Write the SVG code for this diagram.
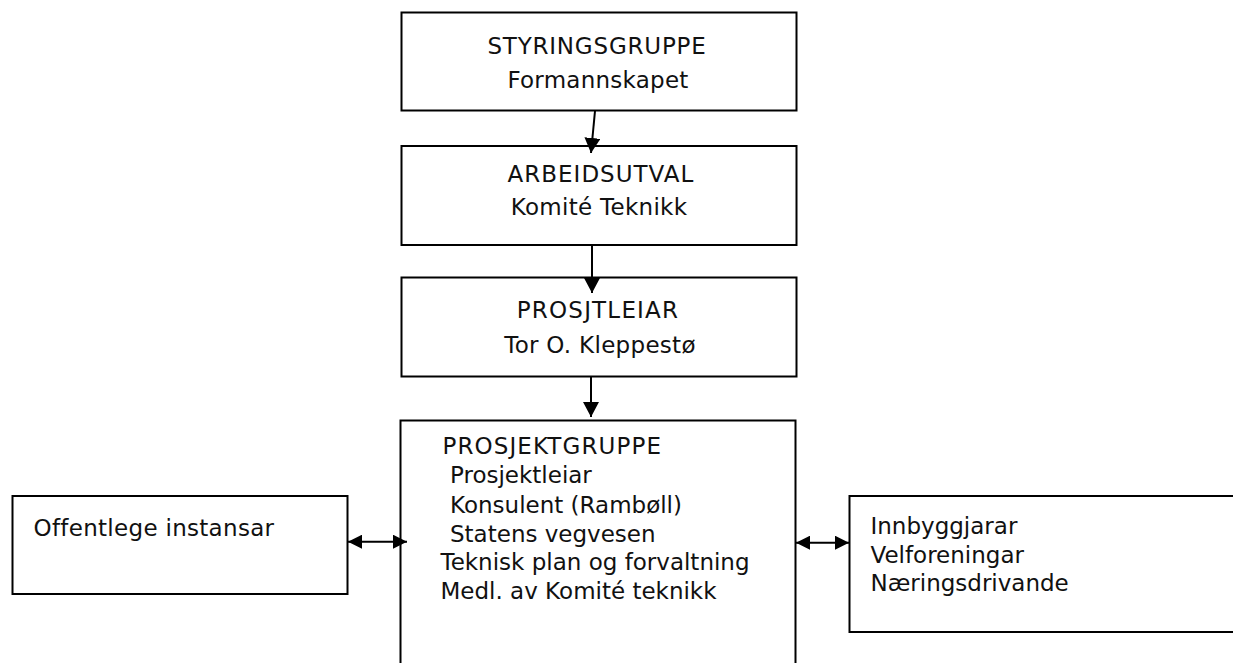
<svg xmlns="http://www.w3.org/2000/svg" width="1233" height="663" viewBox="0 0 1233 663">
<style>
.box{fill:#fff;stroke:#000;stroke-width:2}
.t{font-family:"DejaVu Sans",Verdana,sans-serif;font-size:23px;fill:#111}
.c{text-anchor:middle}
.con{stroke:#000;stroke-width:2;fill:none}
</style>
<defs>
<marker id="ah" viewBox="0 0 15 16" refX="15" refY="8" markerWidth="15" markerHeight="16" markerUnits="userSpaceOnUse" orient="auto-start-reverse">
<path d="M0,0 L15,8 L0,16 z" fill="#000"/>
</marker>
<marker id="ah2" viewBox="0 0 14 14" refX="14" refY="7" markerWidth="14" markerHeight="14" markerUnits="userSpaceOnUse" orient="auto-start-reverse">
<path d="M0,0 L14,7 L0,14 z" fill="#000"/>
</marker>
</defs>
<rect width="1233" height="663" fill="#fff"/>
<g id="styringsgruppe">
<rect class="box" x="401.5" y="12.5" width="395" height="98"/>
<text class="t c" x="597" y="54" letter-spacing="0.8">STYRINGSGRUPPE</text>
<text class="t c" x="598" y="88" letter-spacing="0.25">Formannskapet</text>
</g>
<g id="arbeidsutval">
<rect class="box" x="401.5" y="146" width="395" height="99"/>
<text class="t c" x="601" y="182" letter-spacing="1">ARBEIDSUTVAL</text>
<text class="t c" x="599" y="215" letter-spacing="0.3">Komité Teknikk</text>
</g>
<g id="prosjektleiar">
<rect class="box" x="401.5" y="277.5" width="395" height="99"/>
<text class="t c" x="598" y="318" letter-spacing="1.2">PROSJTLEIAR</text>
<text class="t c" x="600" y="353" letter-spacing="0.3">Tor O. Kleppestø</text>
</g>
<g id="prosjektgruppe">
<rect class="box" x="400.5" y="420.5" width="395" height="260"/>
<text class="t" x="442.5" y="454" letter-spacing="1.1">PROSJEKTGRUPPE</text>
<text class="t" x="450" y="483">Prosjektleiar</text>
<text class="t" x="450" y="513">Konsulent (Rambøll)</text>
<text class="t" x="450" y="541.5">Statens vegvesen</text>
<text class="t" x="440.5" y="570">Teknisk plan og forvaltning</text>
<text class="t" x="440.5" y="598.5">Medl. av Komité teknikk</text>
</g>
<g id="offentlege">
<rect class="box" x="12.5" y="496" width="335" height="98"/>
<text class="t" x="33.5" y="536" letter-spacing="0.3">Offentlege instansar</text>
</g>
<g id="innbyggjarar">
<rect class="box" x="849.5" y="496" width="400" height="136"/>
<text class="t" x="870.5" y="533.5">Innbyggjarar</text>
<text class="t" x="870.5" y="562.5">Velforeningar</text>
<text class="t" x="870.5" y="591">Næringsdrivande</text>
</g>
<g id="connectors">
<line class="con" x1="595" y1="111" x2="591" y2="153" marker-end="url(#ah)"/>
<line class="con" x1="592" y1="245" x2="592" y2="293" marker-end="url(#ah)"/>
<line class="con" x1="591" y1="377" x2="591" y2="417" marker-end="url(#ah)"/>
<line class="con" x1="348" y1="541.7" x2="407" y2="541.7" marker-start="url(#ah2)" marker-end="url(#ah2)"/>
<line class="con" x1="796" y1="542.7" x2="849" y2="542.7" marker-start="url(#ah2)" marker-end="url(#ah2)"/>
</g>
</svg>
